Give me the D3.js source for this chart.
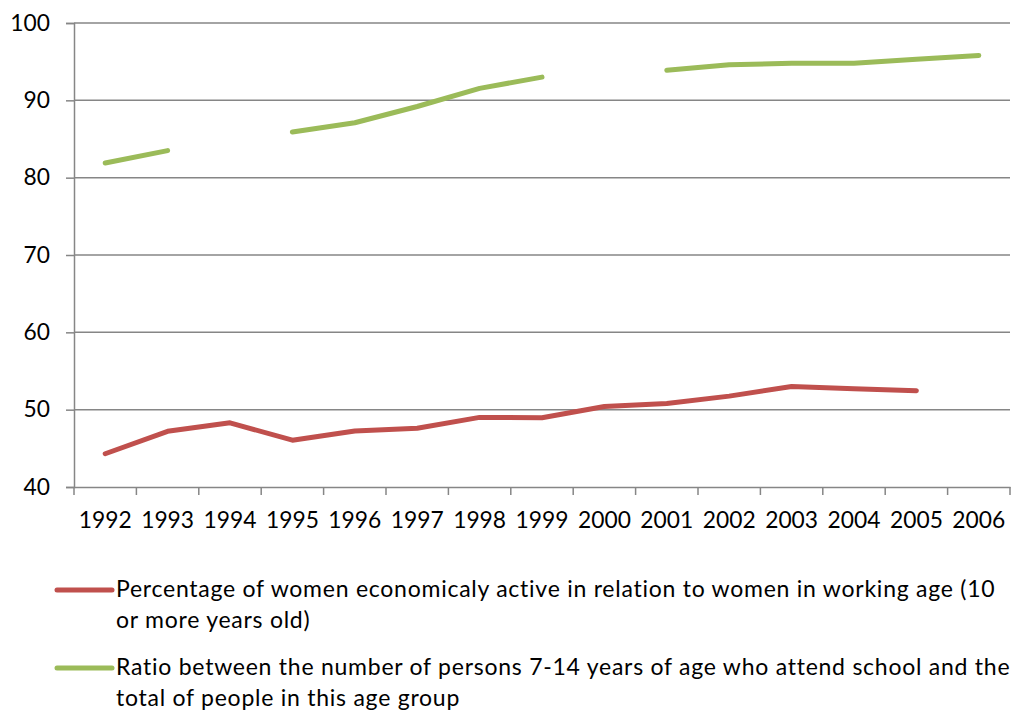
<!DOCTYPE html>
<html><head><meta charset="utf-8">
<script src="https://cdn.jsdelivr.net/npm/d3@7"></script>
<style>body{margin:0;background:#fff}svg{display:block}text{font-family:Lato,"Open Sans",sans-serif;fill:#000}</style>
</head><body><svg id="c" width="1015" height="713"></svg>
<script>
const years = ["1992","1993","1994","1995","1996","1997","1998","1999","2000","2001","2002","2003","2004","2005","2006"];
const womenActive = [44.3,47.2,48.3,46.05,47.25,47.6,49.0,48.95,50.4,50.8,51.75,53.0,52.7,52.45,null];
const schoolRatio = [81.9,83.5,null,85.9,87.1,89.2,91.55,93.0,null,93.9,94.6,94.8,94.8,95.3,95.8];
const yTicks = [40,50,60,70,80,90,100];
const legendLines = [
  ["Percentage of women economicaly active in relation to women in working age (10","or more years old)"],
  ["Ratio between the number of persons 7-14 years of age who attend school and the","total of people in this age group"]
];
const colors = ["#C0504D","#9BBB59"];

const svg = d3.select("#c");
const L=74,R=1010,T=23,B=487;
const x = d3.scaleBand().domain(years).range([L,R]);
const y = d3.scaleLinear().domain([40,100]).range([B,T]);
const fs = 22.8;

// gridlines
svg.append("g").selectAll("line").data(yTicks.filter(d=>d>40)).join("line")
  .attr("x1",L).attr("x2",R).attr("y1",d=>y(d)).attr("y2",d=>y(d))
  .attr("stroke","#868686").attr("stroke-width",1.5);

const yAxis = svg.append("g").attr("transform",`translate(${L},0)`)
  .call(d3.axisLeft(y).tickValues(yTicks).tickSize(8).tickPadding(16).tickFormat(d3.format("d")));
const xAxis = svg.append("g").attr("transform",`translate(0,${B})`)
  .call(d3.axisBottom(x).tickSize(0).tickPadding(25));
[yAxis,xAxis].forEach(a=>{a.select(".domain").attr("stroke","#868686").attr("stroke-width",1.5);
  a.selectAll("line").attr("stroke","#868686").attr("stroke-width",1.5);
  a.selectAll("text").attr("font-size",fs).attr("font-family","Lato").attr("fill","#000");});
// x boundary ticks
svg.append("g").selectAll("line").data(d3.range(years.length+1)).join("line")
  .attr("x1",i=>L+i*x.step()).attr("x2",i=>L+i*x.step()).attr("y1",B).attr("y2",B+8)
  .attr("stroke","#868686").attr("stroke-width",1.5);

const line = d3.line().defined(d=>d!=null).x((d,i)=>x(years[i])+x.bandwidth()/2).y(d=>y(d));
[womenActive,schoolRatio].forEach((s,k)=>{
  svg.append("path").attr("d",line(s)).attr("fill","none").attr("stroke",colors[k])
    .attr("stroke-width",5).attr("stroke-linecap","round").attr("stroke-linejoin","round");
});

// legend
const legY=[590,668];
legendLines.forEach((lines,k)=>{
  const g=svg.append("g");
  g.append("line").attr("x1",57).attr("x2",112).attr("y1",legY[k]).attr("y2",legY[k])
    .attr("stroke",colors[k]).attr("stroke-width",5).attr("stroke-linecap","round");
  lines.forEach((t,j)=>g.append("text").attr("x",116).attr("y",legY[k]+7+j*31)
    .attr("font-size",23).attr("letter-spacing",0.75).text(t));
});
</script></body></html>
